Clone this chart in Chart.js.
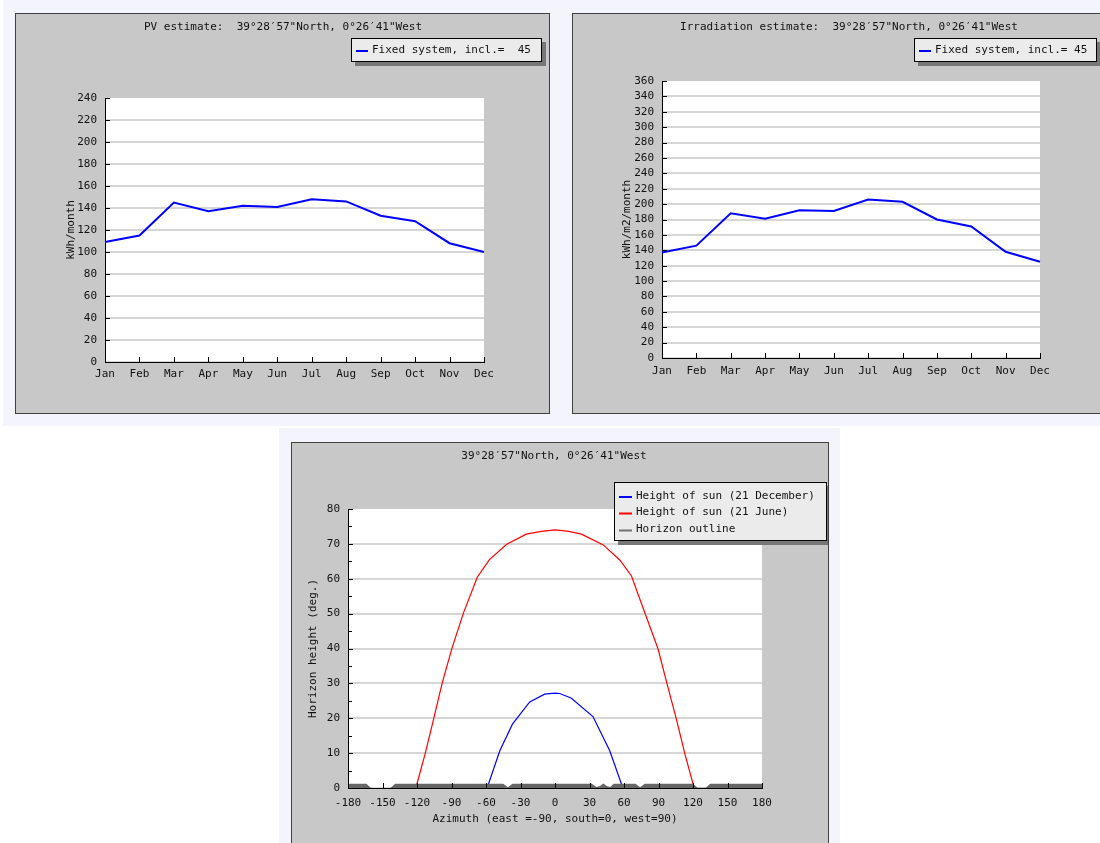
<!DOCTYPE html>
<html>
<head>
<meta charset="utf-8">
<script src="https://cdn.jsdelivr.net/npm/chart.js@4.4.0/dist/chart.umd.min.js"></script>
<style>
  body { margin: 0; width: 1100px; height: 843px; background: #fff; position: relative; overflow: hidden; }
  .bgTop { position: absolute; left: 3px; top: 0; width: 1097px; height: 426px; background: #f4f4fd; }
  .bgBottom { position: absolute; left: 279px; top: 428px; width: 561px; height: 415px; background: #f4f4fd; }
  .panel { position: absolute; background: #c8c8c8; border: 1px solid #404040; box-sizing: border-box; }
  canvas { position: absolute; }
</style>
</head>
<body>
<div class="bgTop"></div>
<div class="bgBottom"></div>
<div class="panel" style="left:15px;top:13px;width:535px;height:401px"></div>
<div class="panel" style="left:572px;top:13px;width:556px;height:401px"></div>
<div class="panel" style="left:291px;top:442px;width:538px;height:420px"></div>
<canvas id="pvChart" width="534" height="400" style="left:15px;top:13px"></canvas>
<canvas id="irradChart" width="528" height="400" style="left:572px;top:13px"></canvas>
<canvas id="sunChart" width="536" height="401" style="left:292px;top:442px"></canvas>
<script>
const months = ['Jan', 'Feb', 'Mar', 'Apr', 'May', 'Jun', 'Jul', 'Aug', 'Sep', 'Oct', 'Nov', 'Dec']
const pvMonthly = [109, 115, 145, 137, 142, 141, 148, 146, 133, 128, 108, 100]
const irradMonthly = [137, 146, 188, 181, 192, 191, 206, 203, 180, 171, 138, 125]

// sun path (azimuth deg, height deg)
const decAz = [-59, -48, -37, -22, -9, 0, 4, 14, 33, 47.6, 59]
const decHeight = [0, 10.7, 18.3, 24.7, 26.9, 27.2, 27.1, 25.8, 20.5, 10.7, 0]
const junAz = [-121, -113, -105.5, -98, -89.5, -79.5, -67.5, -57, -42, -25, -12, 0, 12, 23, 42, 56.5, 66.5, 78, 89.5, 97.5, 105.5, 113, 121]
const junHeight = [0, 9.7, 19.8, 30.2, 40.2, 50.3, 60.5, 65.5, 69.9, 72.8, 73.6, 74, 73.6, 72.8, 69.7, 65.3, 60.8, 50.3, 40, 29.8, 19.8, 9.7, 0]
const horizonAz = [-180, -164, -160, -143, -139, -45, -41, -37, 32, 36, 39, 42, 45, 48, 51, 70, 74, 78, 120, 124, 131, 135, 180]
const horizonHeight = [1.2, 1.2, 0, 0, 1.2, 1.2, 0.2, 1.2, 1.2, 0.3, 0.6, 1.3, 0.6, 0.3, 1.2, 1.2, 0.2, 1.2, 1.2, 0.1, 0.1, 1.2, 1.2]

const pvMax = 240
const irradMax = 360
const monthStep = 20

const FONT_FAMILY = '"DejaVu Sans Mono", "Liberation Mono", monospace'
const FONT = '11px ' + FONT_FAMILY
const TEXT = '#111'
const GRID = '#d6d6d6'

// white plot area, title, inward ticks and the boxed legend with drop shadow
const panelPlugin = {
  id: 'panel',
  beforeDraw(chart) {
    const { ctx, chartArea: a } = chart
    ctx.save()
    ctx.fillStyle = '#fff'
    ctx.fillRect(a.left, a.top, a.right - a.left, a.bottom - a.top)
    ctx.restore()
  },
  afterDraw(chart, args, opts) {
    const { ctx, chartArea: a } = chart
    const xs = chart.scales.x
    const ys = chart.scales.y
    ctx.save()
    ctx.font = FONT
    ctx.fillStyle = TEXT
    ctx.textAlign = 'center'
    ctx.textBaseline = 'middle'
    ctx.fillText(opts.title, opts.titleX, opts.titleY)

    ctx.strokeStyle = '#000'
    ctx.lineWidth = 1
    ctx.beginPath()
    ys.ticks.forEach(t => {
      const py = Math.round(ys.getPixelForValue(t.value)) + 0.5
      ctx.moveTo(a.left, py)
      ctx.lineTo(a.left + 5, py)
    })
    ;(opts.minorY || []).forEach(v => {
      const py = Math.round(ys.getPixelForValue(v)) + 0.5
      ctx.moveTo(a.left, py)
      ctx.lineTo(a.left + 4, py)
    })
    xs.ticks.forEach((t, i) => {
      const val = xs.type === 'category' ? i : t.value
      const px = Math.round(xs.getPixelForValue(val)) + 0.5
      ctx.moveTo(px, a.bottom)
      ctx.lineTo(px, a.bottom - 5)
    })
    ctx.stroke()

    const L = opts.legend
    ctx.fillStyle = '#777'
    ctx.fillRect(L.x + 4, L.y + 4, L.w, L.h)
    ctx.fillStyle = '#ebebeb'
    ctx.fillRect(L.x, L.y, L.w, L.h)
    ctx.strokeStyle = '#000'
    ctx.strokeRect(L.x + 0.5, L.y + 0.5, L.w - 1, L.h - 1)
    ctx.textAlign = 'left'
    L.items.forEach((it, i) => {
      const ry = L.rows[i]
      ctx.strokeStyle = it.color
      ctx.lineWidth = 2
      ctx.beginPath()
      ctx.moveTo(L.lineX0, ry + 1)
      ctx.lineTo(L.lineX1, ry + 1)
      ctx.stroke()
      ctx.fillStyle = TEXT
      ctx.fillText(it.text, L.textX, ry)
    })
    ctx.restore()
  }
}

function monthChart(id, values, max, yTitle, title, pad, yTitlePad, xTickPad, legend) {
  return new Chart(document.getElementById(id), {
    type: 'line',
    data: {
      labels: months,
      datasets: [{
        label: legend.items[0].text,
        data: values,
        borderColor: '#0000ff',
        borderWidth: 2,
        pointRadius: 0,
        tension: 0,
        fill: false
      }]
    },
    options: {
      responsive: false,
      animation: false,
      layout: { padding: pad },
      plugins: {
        legend: { display: false },
        tooltip: { enabled: false },
        panel: { title: title.text, titleX: title.x, titleY: title.y, legend }
      },
      scales: {
        x: {
          grid: { display: false, drawTicks: false },
          border: { color: '#000', width: 1 },
          ticks: { autoSkip: false, maxRotation: 0, padding: xTickPad, color: TEXT, font: { family: FONT_FAMILY, size: 11 } },
          afterFit(scale) { scale.height = 30 }
        },
        y: {
          min: 0,
          max: max,
          grid: {
            drawTicks: false,
            lineWidth: 2,
            color: c => (c.tick && c.tick.value === max) ? 'rgba(0,0,0,0)' : GRID
          },
          border: { color: '#000', width: 1 },
          ticks: { stepSize: monthStep, autoSkip: false, padding: 8, color: TEXT, font: { family: FONT_FAMILY, size: 11 } },
          title: { display: true, text: yTitle, color: TEXT, font: { family: FONT_FAMILY, size: 11 }, padding: { top: yTitlePad, bottom: 0 } },
          afterFit(scale) { scale.width = 50 }
        }
      }
    },
    plugins: [panelPlugin]
  })
}

monthChart('pvChart', pvMonthly, pvMax, 'kWh/month',
  { text: 'PV estimate:  39°28′57"North, 0°26′41"West', x: 268, y: 14 },
  { left: 40, top: 85, right: 65, bottom: 21 }, 10, 6,
  { x: 336, y: 25, w: 191, h: 24, rows: [37], lineX0: 341, lineX1: 353, textX: 357,
    items: [{ text: 'Fixed system, incl.=  45', color: '#0000ff' }] })

monthChart('irradChart', irradMonthly, irradMax, 'kWh/m2/month',
  { text: 'Irradiation estimate:  39°28′57"North, 0°26′41"West', x: 277, y: 14 },
  { left: 40, top: 68, right: 60, bottom: 25 }, 9, 7,
  { x: 342, y: 25, w: 183, h: 24, rows: [37], lineX0: 347, lineX1: 359, textX: 363,
    items: [{ text: 'Fixed system, incl.= 45', color: '#0000ff' }] })

const pairs = (xs, ys) => xs.map((x, i) => ({ x, y: ys[i] }))

new Chart(document.getElementById('sunChart'), {
  type: 'line',
  data: {
    datasets: [
      { label: 'Height of sun (21 December)', data: pairs(decAz, decHeight), borderColor: '#0000ff', borderWidth: 1.2, pointRadius: 0, tension: 0, fill: false, order: 1 },
      { label: 'Height of sun (21 June)', data: pairs(junAz, junHeight), borderColor: '#ff0000', borderWidth: 1.2, pointRadius: 0, tension: 0, fill: false, order: 1 },
      { label: 'Horizon outline', data: pairs(horizonAz, horizonHeight), borderColor: '#666', borderWidth: 0, backgroundColor: '#666', pointRadius: 0, tension: 0, fill: 'origin', order: 0 }
    ]
  },
  options: {
    responsive: false,
    animation: false,
    layout: { padding: { left: 6, top: 67, right: 66, bottom: 15 } },
    plugins: {
      legend: { display: false },
      tooltip: { enabled: false },
      panel: {
        title: '39°28′57"North, 0°26′41"West', titleX: 262, titleY: 14,
        minorY: [5, 15, 25, 35, 45, 55, 65, 75],
        legend: {
          x: 322, y: 40, w: 213, h: 59, rows: [54, 70.5, 87.5], lineX0: 327, lineX1: 340, textX: 344,
          items: [
            { text: 'Height of sun (21 December)', color: '#0000ff' },
            { text: 'Height of sun (21 June)', color: '#ff0000' },
            { text: 'Horizon outline', color: '#707070' }
          ]
        }
      }
    },
    scales: {
      x: {
        type: 'linear',
        min: -180,
        max: 180,
        grid: { display: false, drawTicks: false },
        border: { color: '#000', width: 1 },
        ticks: { stepSize: 30, autoSkip: false, maxRotation: 0, padding: 9, color: TEXT, font: { family: FONT_FAMILY, size: 11 } },
        title: { display: true, text: 'Azimuth (east =-90, south=0, west=90)', color: TEXT, font: { family: FONT_FAMILY, size: 11 }, padding: { top: 0, bottom: 2 } },
        afterFit(scale) { scale.height = 40 }
      },
      y: {
        min: 0,
        max: 80,
        grid: {
          drawTicks: false,
          lineWidth: 2,
          color: c => (c.tick && c.tick.value === 80) ? 'rgba(0,0,0,0)' : GRID
        },
        border: { color: '#000', width: 1 },
        ticks: { stepSize: 10, autoSkip: false, padding: 8, color: TEXT, font: { family: FONT_FAMILY, size: 11 } },
        title: { display: true, text: 'Horizon height (deg.)', color: TEXT, font: { family: FONT_FAMILY, size: 11 }, padding: { top: 8.4, bottom: 0 } },
        afterFit(scale) { scale.width = 50 }
      }
    }
  },
  plugins: [panelPlugin]
})
</script>
</body>
</html>
